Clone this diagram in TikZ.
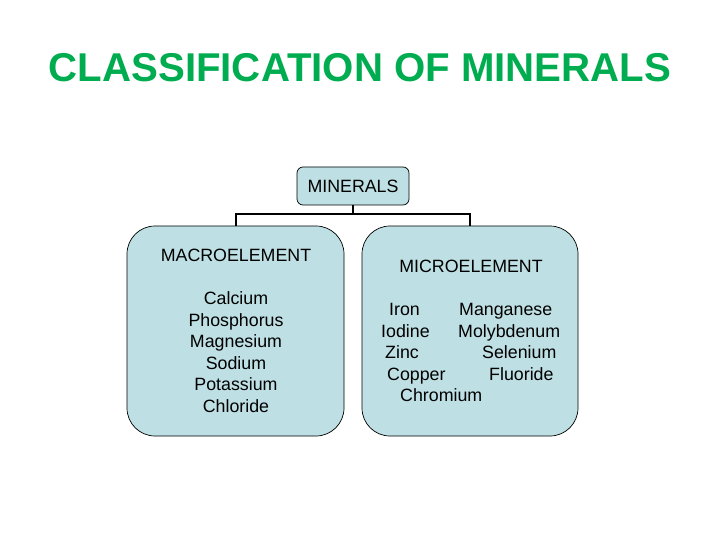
\documentclass[tikz,border=0pt]{standalone}
\usepackage{fontspec}
\setmainfont{Liberation Sans}
\definecolor{titlegreen}{RGB}{0,172,80}
\definecolor{boxfill}{RGB}{190,223,227}
\begin{document}
\begin{tikzpicture}[x=1pt,y=-1pt,
  lbl/.style={inner sep=0pt,anchor=base,font=\fontsize{17.8}{20}\selectfont},
  lblw/.style={lbl,anchor=base west},
  box/.style={draw=black,fill=boxfill,line width=0.7pt},
  conn/.style={draw=black,line width=2.8pt}]
\useasboundingbox (0,0) rectangle (720,540);
\node[inner sep=0pt,anchor=base,text=titlegreen,font=\fontsize{40.2}{44}\selectfont\bfseries] (title) at (360,82) {CLASSIFICATION OF MINERALS};
% boxes
\draw[box,rounded corners=6pt] (297,167) rectangle (409,205);
\node[lbl] (min) at (353,193) {MINERALS};
\draw[box,rounded corners=28pt] (127,226) rectangle (344,436);
\draw[box,rounded corners=28pt] (362,226) rectangle (578,436);
\coordinate (mintop) at (353,205);
\coordinate (lt) at (236,226);
\coordinate (rt) at (470,226);
\draw[conn] (mintop) -- (353,214);
\draw[conn] (lt) -- (236,214) -- (470,214) -- (rt);
% left box text
\node[lbl] (macro) at (236,261) {MACROELEMENT};
\node[lbl] (ca) at (236,304) {Calcium};
\node[lbl] (ph) at (236,326) {Phosphorus};
\node[lbl] (mg) at (236,347) {Magnesium};
\node[lbl] (na) at (236,369) {Sodium};
\node[lbl] (k) at (236,390) {Potassium};
\node[lbl] (cl) at (236,412) {Chloride};
% right box text
\node[lbl] (micro) at (471,272) {MICROELEMENT};
\node[lblw] (fe) at (389,315) {Iron};
\node[lblw] (mn) at (459,315) {Manganese};
\node[lblw] (io) at (381,337) {Iodine};
\node[lblw] (mo) at (458,337) {Molybdenum};
\node[lblw] (zn) at (385,358) {Zinc};
\node[lblw] (se) at (482,358) {Selenium};
\node[lblw] (cu) at (387,380) {Copper};
\node[lblw] (fl) at (489,380) {Fluoride};
\node[lblw] (cr) at (400,401) {Chromium};
\end{tikzpicture}
\end{document}
